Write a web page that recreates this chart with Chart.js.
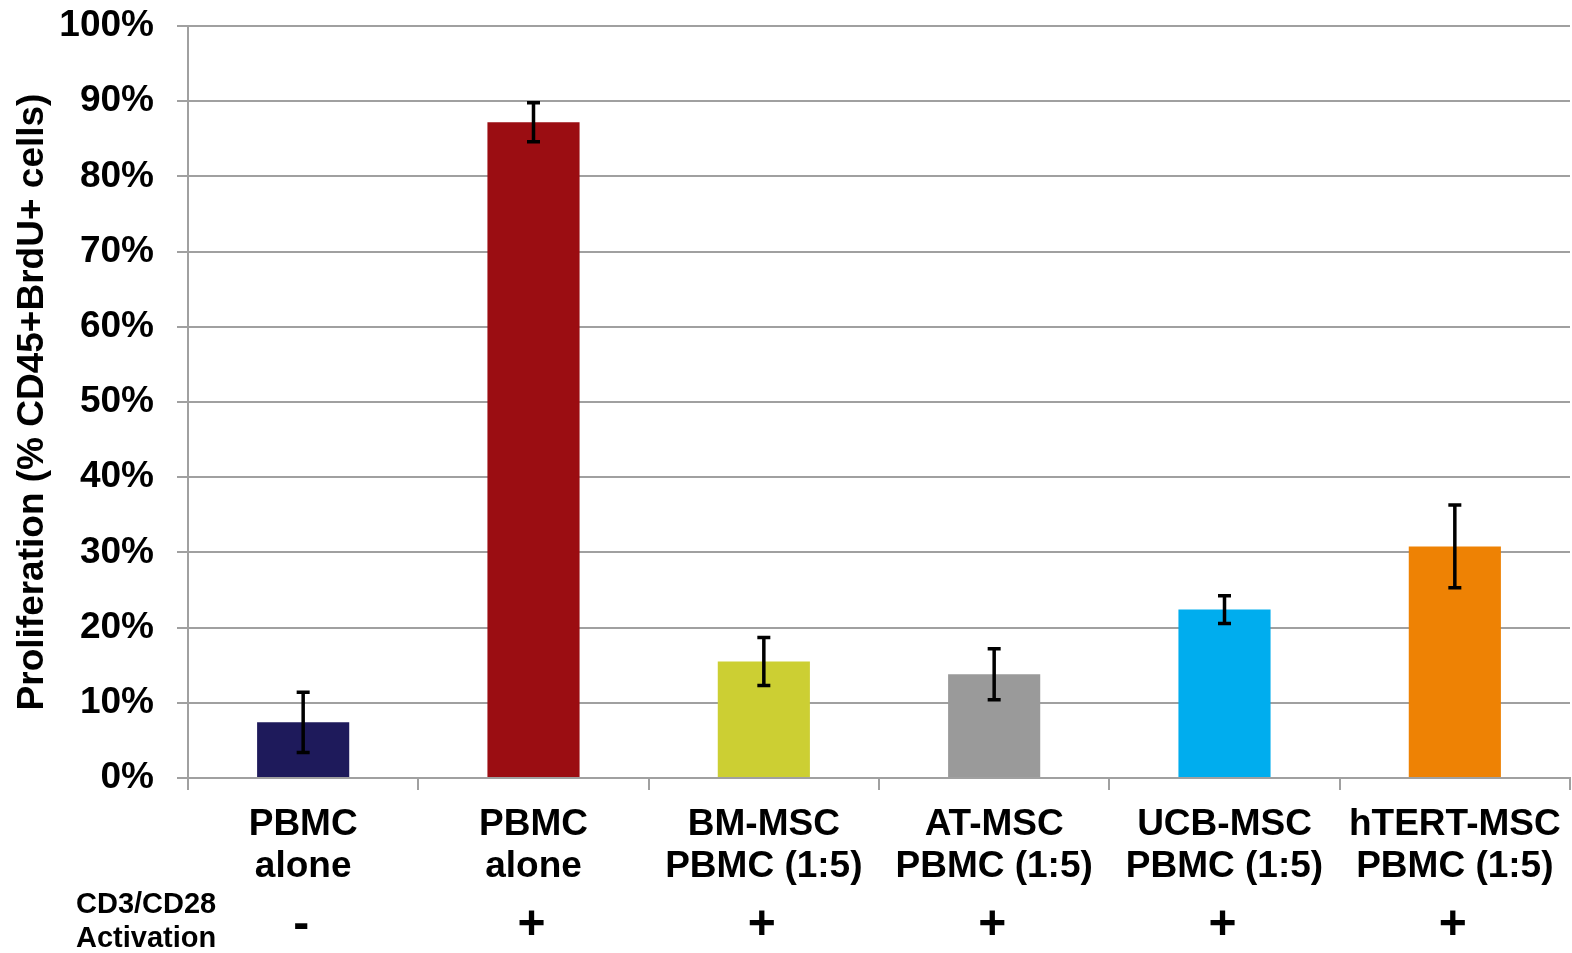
<!DOCTYPE html>
<html>
<head>
<meta charset="utf-8">
<script src="https://cdn.jsdelivr.net/npm/chart.js@4.4.0/dist/chart.umd.min.js"></script>
<style>
  html, body { margin: 0; padding: 0; background: #fff; }
  #wrap { width: 1572px; height: 953px; position: relative; }
</style>
</head>
<body>
<div id="wrap"><canvas id="c" width="1572" height="953"></canvas></div>
<script>
const categories = [
  ["PBMC", "alone"],
  ["PBMC", "alone"],
  ["BM-MSC", "PBMC (1:5)"],
  ["AT-MSC", "PBMC (1:5)"],
  ["UCB-MSC", "PBMC (1:5)"],
  ["hTERT-MSC", "PBMC (1:5)"]
];
const proliferation = [7.4, 87.2, 15.5, 13.8, 22.4, 30.8];
const errors = [4.0, 2.6, 3.2, 3.4, 1.85, 5.5];
const activation = ["-", "+", "+", "+", "+", "+"];
const activationLabel = ["CD3/CD28", "Activation"];
const barColors = ["#1e1a5b", "#9b0d12", "#cccf33", "#9a9a9a", "#00adee", "#ee8204"];
const yTitle = "Proliferation (% CD45+BrdU+ cells)";

const FONT = "'Liberation Sans', Arial, Helvetica, sans-serif";

const errorBarPlugin = {
  id: 'errorBars',
  afterDatasetsDraw(chart) {
    const ctx = chart.ctx;
    const meta = chart.getDatasetMeta(0);
    const y = chart.scales.y;
    ctx.save();
    ctx.strokeStyle = '#000';
    ctx.lineWidth = 3.5;
    meta.data.forEach((bar, i) => {
      const v = proliferation[i], e = errors[i];
      const yt = y.getPixelForValue(v + e);
      const yb = y.getPixelForValue(v - e);
      const x = bar.x;
      ctx.beginPath();
      ctx.moveTo(x, yt); ctx.lineTo(x, yb);
      ctx.moveTo(x - 6.5, yt); ctx.lineTo(x + 6.5, yt);
      ctx.moveTo(x - 6.5, yb); ctx.lineTo(x + 6.5, yb);
      ctx.stroke();
    });
    ctx.restore();
  }
};

const activationPlugin = {
  id: 'activationRow',
  afterDraw(chart) {
    const ctx = chart.ctx;
    const xs = chart.scales.x;
    ctx.save();
    ctx.fillStyle = '#000';
    ctx.textBaseline = 'middle';
    ctx.textAlign = 'left';
    ctx.font = "bold 29px " + FONT;
    ctx.fillText(activationLabel[0], 76, 905);
    ctx.fillText(activationLabel[1], 76, 939);
    ctx.textAlign = 'center';
    ctx.font = "bold 48px " + FONT;
    activation.forEach((s, i) => {
      ctx.fillText(s, xs.getPixelForValue(i) - 2, 926);
    });
    ctx.restore();
  }
};

new Chart(document.getElementById('c'), {
  type: 'bar',
  data: {
    labels: categories,
    datasets: [{
      data: proliferation,
      backgroundColor: barColors,
      borderWidth: 0,
      barPercentage: 0.4,
      categoryPercentage: 1.0
    }]
  },
  options: {
    responsive: false,
    animation: false,
    devicePixelRatio: 1,
    layout: { padding: { top: 26, right: 2, left: 0, bottom: 0 } },
    plugins: { legend: { display: false }, tooltip: { enabled: false } },
    scales: {
      x: {
        afterFit(scale) { scale.height = 175; scale.paddingLeft = 0; scale.paddingRight = 0; },
        grid: { drawOnChartArea: false, drawTicks: true, tickLength: 12, color: '#a0a0a0', lineWidth: 2, offset: true },
        border: { color: '#a0a0a0', width: 2 },
        ticks: {
          color: '#000',
          padding: 14,
          maxRotation: 0,
          autoSkip: false,
          font: { family: FONT, size: 37, weight: 'bold', lineHeight: 1.14 }
        }
      },
      y: {
        min: 0, max: 100,
        afterFit(scale) { scale.width = 188; scale.paddingTop = 0; scale.paddingBottom = 0; },
        grid: { color: '#a0a0a0', lineWidth: 2, tickLength: 11 },
        border: { color: '#a0a0a0', width: 2 },
        ticks: {
          stepSize: 10,
          color: '#000',
          padding: 23,
          font: { family: FONT, size: 37, weight: 'bold' },
          callback: v => v + '%'
        },
        title: {
          display: true,
          text: yTitle,
          color: '#000',
          padding: { top: 11, bottom: 0 },
          font: { family: FONT, size: 37, weight: 'bold', lineHeight: 1.2 }
        }
      }
    }
  },
  plugins: [errorBarPlugin, activationPlugin]
});
</script>
</body>
</html>
